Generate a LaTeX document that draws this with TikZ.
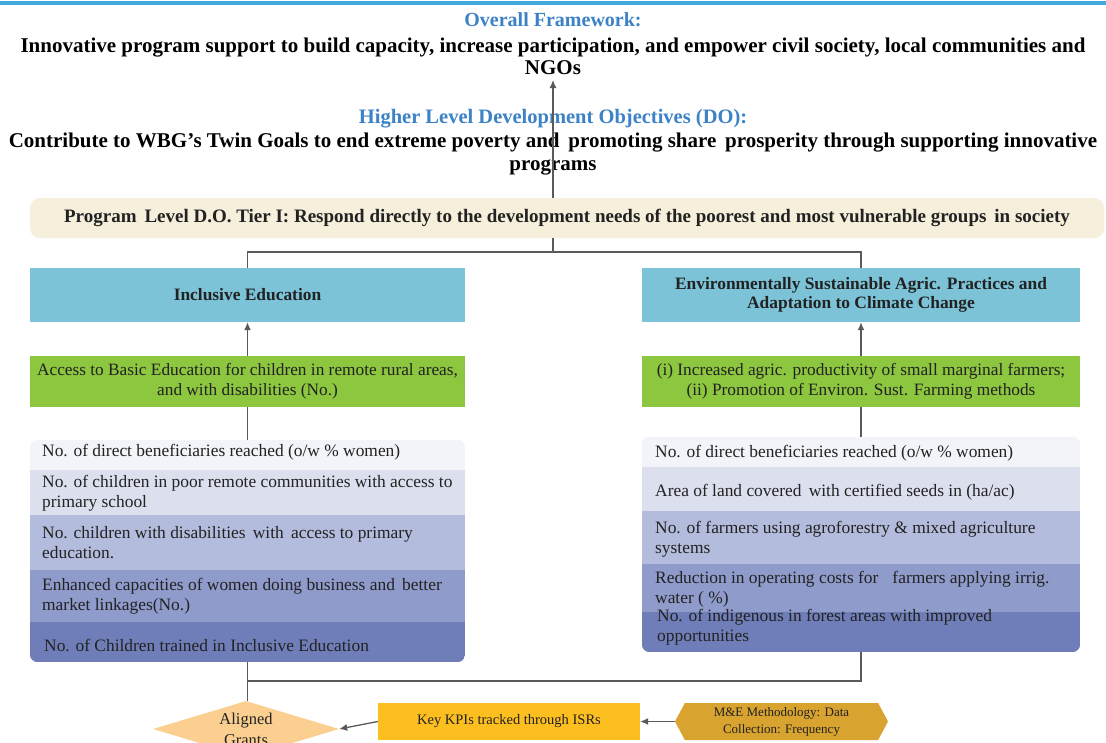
\documentclass[tikz,border=0pt]{standalone}
\usepackage{fontspec}
\setmainfont{Liberation Serif}
\usetikzlibrary{shapes.geometric,shapes.symbols,arrows.meta}
\definecolor{topblue}{HTML}{3FA9E0}
\definecolor{headblue}{HTML}{3C82C6}
\definecolor{tierfill}{HTML}{F5EFDB}
\definecolor{boxblue}{HTML}{7CC3D8}
\definecolor{boxgreen}{HTML}{8DC63F}
\definecolor{rowA}{HTML}{F3F4F9}
\definecolor{rowB}{HTML}{DCE0EE}
\definecolor{rowC}{HTML}{B3BCDC}
\definecolor{rowD}{HTML}{8F9BCB}
\definecolor{rowE}{HTML}{6F7EB8}
\definecolor{kpigold}{HTML}{FDBF1F}
\definecolor{hexgold}{HTML}{D8A32F}
\definecolor{diapeach}{HTML}{FACF8F}
\definecolor{linegray}{HTML}{5A5A5A}
\definecolor{txt}{HTML}{222222}
\begin{document}
\begin{tikzpicture}[x=1pt,y=-1pt,
  conn/.style={draw=linegray, line width=1.3pt},
  arr/.style={conn, -{Latex[length=8pt,width=7pt]}},
  headblue/.style={font=\bfseries\fontsize{20}{23}\selectfont, text=headblue, align=center, inner sep=0},
  headblack/.style={font=\bfseries\fontsize{21}{22}\selectfont, text=black, align=center, inner sep=0},
  titlebox/.style={fill=boxblue, inner sep=0, align=center, text=txt, font=\bfseries\fontsize{17.4}{19}\selectfont},
  greenbox/.style={fill=boxgreen, inner sep=0, align=center, text=txt, font=\fontsize{17.3}{20}\selectfont},
  framebox/.style={inner sep=0},
  rowtxt/.style={anchor=west, inner sep=0, align=left, text=txt, font=\fontsize{17.4}{20}\selectfont},
]
\useasboundingbox (0,0) rectangle (1106,742);
\fill[white] (0,0) rectangle (1106,742);
% top rule
\draw[topblue, line width=4pt] (0,3) -- (1106,3);

% headings
\node[headblue] (fwtitle) at (553,20) {Overall Framework:};
\node[headblack] (fwtext) at (553,56) {Innovative program support to build capacity, increase participation, and empower civil society, local communities and\\NGOs};
\node[headblue, font=\bfseries\fontsize{20.5}{22}\selectfont] (dotitle) at (553,119) {Higher Level Development Objectives (DO):};
\node[headblack, font=\bfseries\fontsize{21}{23}\selectfont] (dotext) at (553,154.5) {Contribute to WBG’s Twin Goals to end extreme poverty and\, promoting share\, prosperity through supporting innovative\\programs};

% tier box
\node[fill=tierfill, rounded corners=10pt, minimum width=1074pt, minimum height=40pt, inner sep=0, text=txt, font=\bfseries\fontsize{19}{20}\selectfont] (tier) at (567,218) {Program\, Level D.O. Tier I: Respond directly to the development needs of the poorest and most vulnerable groups\, in society};

\coordinate (fwtip) at (553,80);
\coordinate (tj) at (553,252);
\draw[arr] (tier.north -| fwtip) -- (fwtip);

% blue title boxes
\node[titlebox, minimum width=435pt, minimum height=54pt] (lblue) at (247.5,295) {Inclusive Education};
\node[titlebox, minimum width=438pt, minimum height=54pt] (rblue) at (861,295) {Environmentally Sustainable Agric. Practices and\\Adaptation to Climate Change};

\draw[conn] (tier.south -| tj) -- (tj);
\draw[conn] (lblue.north) |- (tj) -| (rblue.north);

% green boxes
\node[greenbox, minimum width=435pt, minimum height=51pt] (lgreen) at (247.5,381.5) {Access to Basic Education for children in remote rural areas,\\and with disabilities (No.)};
\node[greenbox, minimum width=438pt, minimum height=51pt] (rgreen) at (861,381.5) {(i) Increased agric. productivity of small marginal farmers;\\(ii) Promotion of Environ. Sust. Farming methods};

\draw[arr] (lgreen.north) -- (lblue.south);
\draw[arr] (rgreen.north) -- (rblue.south);

% left indicator list
\node[framebox, minimum width=435pt, minimum height=222pt] (llist) at (247.5,551) {};
\begin{scope}
\clip[rounded corners=8pt] (llist.north west) rectangle (llist.south east);
\fill[rowA] (30,440) rectangle (465,470);
\fill[rowB] (30,470) rectangle (465,515);
\fill[rowC] (30,515) rectangle (465,570);
\fill[rowD] (30,570) rectangle (465,622);
\fill[rowE] (30,622) rectangle (465,662);
\end{scope}
\node[rowtxt] (l1) at (42,452) {No. of direct beneficiaries reached (o/w \% women)};
\node[rowtxt] (l2) at (42,493) {No. of children in poor remote communities with access to\\primary school};
\node[rowtxt] (l3) at (42,543) {No. children with disabilities\, with\, access to primary\\education.};
\node[rowtxt] (l4) at (42,596) {Enhanced capacities of women doing business and\, better\\market linkages(No.)};
\node[rowtxt] (l5) at (44,645) {No. of Children trained in Inclusive Education};

% right indicator list
\node[framebox, minimum width=438pt, minimum height=215pt] (rlist) at (861,544.5) {};
\begin{scope}
\clip[rounded corners=8pt] (rlist.north west) rectangle (rlist.south east);
\fill[rowA] (642,437) rectangle (1080,467);
\fill[rowB] (642,467) rectangle (1080,511);
\fill[rowC] (642,511) rectangle (1080,564);
\fill[rowD] (642,564) rectangle (1080,612);
\fill[rowE] (642,612) rectangle (1080,652);
\end{scope}
\node[rowtxt] (r1) at (655,453) {No. of direct beneficiaries reached (o/w \% women)};
\node[rowtxt] (r2) at (655,492) {Area of land covered\, with certified seeds in (ha/ac)};
\node[rowtxt] (r3) at (655,539) {No. of farmers using agroforestry \& mixed agriculture\\systems};
\node[rowtxt] (r4) at (655,589) {Reduction in operating costs for\;\; farmers applying irrig.\\water ( \%)};
\node[rowtxt] (r5) at (657,627) {No. of indigenous in forest areas with improved\\opportunities};

\draw[conn] (llist.north) -- (lgreen.south);
\draw[conn] (rlist.north) -- (rgreen.south);

% bottom row
\node[diamond, fill=diapeach, aspect=3.4, minimum width=186pt, minimum height=56pt, inner sep=0, align=center, text=txt, font=\fontsize{16.5}{21}\selectfont] (dia) at (246,729) {Aligned\\Grants};
\node[fill=kpigold, minimum width=262pt, minimum height=37pt, inner sep=0, text=txt, font=\fontsize{14.5}{19}\selectfont] (kpi) at (509,721.5) {Key KPIs tracked through ISRs};
\node[signal, signal to=west and east, signal pointer angle=124, fill=hexgold, minimum width=213pt, minimum height=37pt, inner sep=0, align=center, text=txt, font=\fontsize{13}{17}\selectfont] (hex) at (781.5,721.5) {M\&E Methodology: Data\\Collection: Frequency};

\coordinate (bj) at (248,681);
\draw[conn] (llist.south) -- (llist.south |- dia.north);
\draw[conn] (rlist.south) |- (bj);
\draw[arr] (hex.west) -- (kpi.east);
\draw[arr] (kpi.west) -- (dia.east);
\end{tikzpicture}
\end{document}
